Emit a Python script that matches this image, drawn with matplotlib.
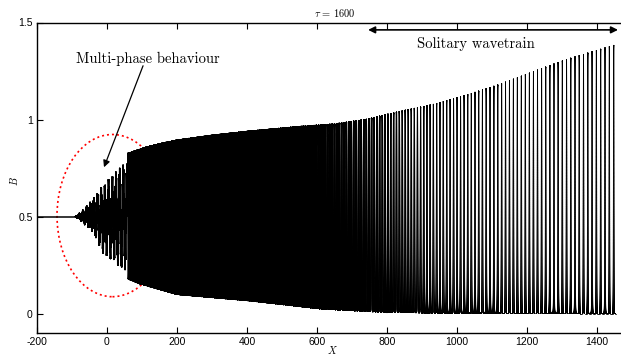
import numpy as np
import matplotlib
matplotlib.use("Agg")
import matplotlib.pyplot as plt
from matplotlib.patches import Ellipse
from matplotlib.collections import LineCollection

plt.rcParams['mathtext.fontset'] = 'cm'
plt.rcParams['axes.unicode_minus'] = False
plt.rcParams['path.simplify'] = False
plt.rcParams['agg.path.chunksize'] = 20000

# ---- data ----
# flat initial level
flat_x = [-200, -90]
flat_level = 0.5

# multi-phase region envelope
mp_x = [-90, -70, -40, -11, 20, 46, 58]
mp_upper = [0.5, 0.53, 0.59, 0.66, 0.72, 0.77, 0.77]
mp_lower = [0.5, 0.47, 0.42, 0.31, 0.27, 0.22, 0.235]
mp_wavelengths = [10.5, 1.6]      # slow and fast component
mp_weights = [0.55, 0.45]

# main wavetrain envelope
env_x = [60, 114, 160, 200, 300, 400, 550, 650, 740, 840, 930, 1030, 1120, 1220, 1310, 1410, 1462]
env_upper = [0.825, 0.858, 0.878, 0.893, 0.918, 0.938, 0.963, 0.976, 1.0, 1.043, 1.077, 1.128,
             1.18, 1.248, 1.308, 1.362, 1.39]
low_x = [60, 94, 200, 409, 609, 789, 1000, 1462]
env_lower = [0.18, 0.155, 0.10, 0.067, 0.026, 0.008, 0.002, 0.0]

# local wavelength and peak sharpness along the wavetrain
wl_x = [60, 400, 700, 900, 1100, 1300, 1462]
wavelength = [3.5, 5, 7, 9, 11, 12, 12.5]
sh_x = [60, 550, 750, 900, 1050, 1250, 1462]
sharpness = [1, 1, 2, 5, 9, 13, 16]

# line weight along x (style)
lwx = [-200, 600, 950, 1500]
lwv = [1.1, 1.1, 0.6, 0.6]

# annotations
title_text = r'$\tau\, =\, 1600$'
ann1_text = 'Multi-phase behaviour'
ann2_text = 'Solitary wavetrain'
ellipse_center = (15.7, 0.505)
ellipse_size = (317, 0.836)

# ---- build curve ----
xf = np.array(flat_x, dtype=float)
yf = np.full_like(xf, flat_level)

xm = np.linspace(mp_x[0], mp_x[-1], 30000)
um = np.interp(xm, mp_x, mp_upper)
lm = np.interp(xm, mp_x, mp_lower)
carrier = sum(w * np.cos(2 * np.pi * (xm - mp_x[0]) / L) for w, L in zip(mp_weights, mp_wavelengths))
ym = lm + (um - lm) * (0.5 + 0.5 * carrier)

xw = np.linspace(env_x[0], env_x[-1], 400000)
uw = np.interp(xw, env_x, env_upper)
lw_ = np.interp(xw, low_x, env_lower)
lam = np.interp(xw, wl_x, wavelength)
p = np.interp(xw, sh_x, sharpness)
phase = np.concatenate([[0], np.cumsum(2 * np.pi / lam[:-1] * np.diff(xw))])
f = ((1 + np.cos(phase)) / 2) ** p
yw = lw_ + (uw - lw_) * f
# stop the train at its last trough
cyc = np.floor(phase / (2 * np.pi) - 0.5)
last_trough = np.nonzero(cyc < cyc[-1])[0][-1]
xw, yw = xw[:last_trough + 1], yw[:last_trough + 1]

x = np.concatenate([xf, xm, xw])
y = np.concatenate([yf, ym, yw])
pts = np.column_stack([x, y])
segs = np.stack([pts[:-1], pts[1:]], axis=1)
widths = np.interp(0.5 * (x[:-1] + x[1:]), lwx, lwv)

# ---- figure ----
fig = plt.figure(figsize=(6.21, 3.56), dpi=100)
ax = fig.add_axes([37 / 621, 23 / 356, 595 / 621, 310.5 / 356])
lc = LineCollection(segs, colors='black', linewidths=widths, capstyle='round')
ax.add_collection(lc)

ax.set_xlim(-200, 1500)
ax.set_ylim(-0.1, 1.5)
ax.set_xticks([-200, 0, 200, 400, 600, 800, 1000, 1200, 1400])
ax.set_yticks([0, 0.5, 1, 1.5])
ax.set_yticklabels(['0', '0.5', '1', '1.5'])
ax.tick_params(direction='in', length=4.3, width=0.8, top=True, right=False,
               labelsize=7.5, pad=3)
for lab in ax.get_xticklabels() + ax.get_yticklabels():
    lab.set_fontfamily('Liberation Sans')
for s in ['left', 'bottom', 'top']:
    ax.spines[s].set_linewidth(1.0)
ax.spines['right'].set_visible(False)

ax.set_title(title_text, fontsize=7.5, pad=4)
ax.set_xlabel(r'$X$', fontsize=7.5)
ax.set_ylabel(r'$B$', fontsize=7.5)
ax.xaxis.set_label_coords(0.497, -0.055)
ax.yaxis.set_label_coords(-0.039, 0.49)
ax.xaxis.label.set_va('center')
ax.yaxis.label.set_va('center')

ell = Ellipse(ellipse_center, ellipse_size[0], ellipse_size[1], fill=False,
              edgecolor='red', linestyle=(0, (1.2, 1.8)), lw=1.2)
ax.add_patch(ell)

ax.annotate('', xy=(-8.6, 0.754), xytext=(103, 1.277),
            arrowprops=dict(arrowstyle='-|>', color='black', lw=0.9,
                            mutation_scale=10, shrinkA=0, shrinkB=0))
ax.text(117, 1.31, ann1_text, fontfamily='cmr10', fontsize=10.5,
        ha='center', va='center')

ax.annotate('', xy=(1460, 1.462), xytext=(746, 1.462),
            arrowprops=dict(arrowstyle='<|-|>', color='black', lw=1.2,
                            mutation_scale=10, shrinkA=0, shrinkB=0))
ax.text(1055, 1.389, ann2_text, fontfamily='cmr10', fontsize=10.5,
        ha='center', va='center')

fig.savefig('out.png', dpi=100)
